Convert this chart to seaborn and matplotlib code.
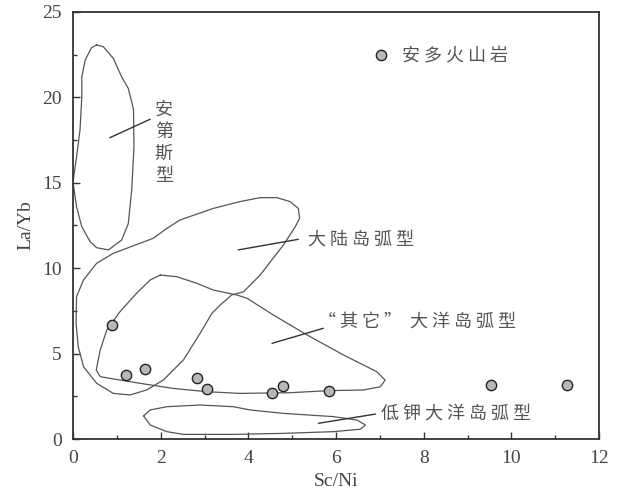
import matplotlib
matplotlib.use("Agg")
import matplotlib.pyplot as plt
import seaborn as sns
import pandas as pd

# 安多火山岩 sample points (Sc/Ni, La/Yb)
sc_ni = [0.89, 1.22, 1.64, 2.83, 3.06, 4.54, 4.80, 5.85, 9.53, 11.27]
la_yb = [6.67, 3.73, 4.08, 3.59, 2.93, 2.71, 3.08, 2.79, 3.18, 3.16]

# field outlines
andes_x = [0.54, 0.69, 0.92, 1.11, 1.26, 1.38, 1.39, 1.34, 1.26, 1.11, 0.81, 0.54, 0.39, 0.2, 0.08, 0.0,
           0.08, 0.16, 0.2, 0.2, 0.28, 0.42, 0.54]
andes_y = [23.07, 22.97, 22.28, 21.2, 20.53, 19.3, 17.1, 14.6, 12.6, 11.65, 11.07, 11.2, 11.55, 12.43, 13.6, 15.06,
           16.5, 18.1, 20.0, 21.2, 22.2, 22.9, 23.07]

cont_x = [4.27, 4.65, 4.95, 5.14, 5.17, 5.07, 4.8, 4.27, 3.89, 3.62, 3.36, 3.17, 2.9, 2.52, 2.06, 1.68, 1.3, 0.92,
          0.54, 0.24, 0.12, 0.07, 0.08, 0.24, 0.54, 0.92, 1.23, 1.83, 2.14, 2.44, 3.2, 3.81, 4.27]
cont_y = [14.13, 14.13, 13.9, 13.5, 12.92, 12.43, 11.36, 9.6, 8.62, 8.43, 7.85, 7.36, 6.19, 4.63, 3.45, 2.87, 2.58,
          2.67, 3.26, 4.23, 5.4, 6.77, 8.33, 9.31, 10.29, 10.87, 11.17, 11.75, 12.33, 12.82, 13.5, 13.9, 14.13]

other_x = [1.99, 2.37, 2.82, 3.2, 3.74, 3.97, 4.57, 5.34, 6.17, 6.93, 7.12, 7.01, 6.63, 5.83, 4.95, 3.81, 3.05, 2.29,
           1.53, 0.84, 0.62, 0.53, 0.62, 0.77, 1.07, 1.45, 1.76, 1.99]
other_y = [9.6, 9.5, 9.12, 8.72, 8.43, 8.24, 7.26, 6.09, 4.92, 3.94, 3.45, 3.06, 2.87, 2.83, 2.71, 2.67, 2.77, 2.96,
           3.26, 3.55, 3.65, 4.04, 5.21, 6.38, 7.45, 8.53, 9.31, 9.6]

lowk_x = [1.61, 1.76, 2.14, 2.9, 3.66, 4.04, 4.8, 5.94, 6.48, 6.67, 6.55, 5.94, 4.8, 3.66, 2.52, 2.14, 1.76, 1.61]
lowk_y = [1.35, 1.7, 1.89, 1.99, 1.89, 1.7, 1.5, 1.31, 1.11, 0.82, 0.57, 0.43, 0.33, 0.27, 0.27, 0.43, 0.82, 1.35]

sns.set_theme(style="white")
plt.rcParams['font.family'] = ['Noto Sans CJK SC', 'DejaVu Sans']

fig = plt.figure(figsize=(6.23, 4.97), dpi=100)
ax = fig.add_axes([0.1172, 0.1167, 0.8443, 0.8592])

line_col = "#555555"
for xs, ys in [(andes_x, andes_y), (cont_x, cont_y), (other_x, other_y), (lowk_x, lowk_y)]:
    ax.plot(xs, ys, color=line_col, lw=0.9, solid_joinstyle="round")

# leader lines from labels into fields
leaders = [((0.84, 1.76), (17.64, 18.72)),
           ((3.77, 5.14), (11.07, 11.69)),
           ((4.54, 5.71), (5.6, 6.48)),
           ((5.6, 6.9), (0.92, 1.46))]
for lx, ly in leaders:
    ax.plot(lx, ly, color="#333333", lw=1.0)

df = pd.DataFrame({"Sc/Ni": sc_ni, "La/Yb": la_yb})
sns.scatterplot(data=df, x="Sc/Ni", y="La/Yb", ax=ax, s=55, color="#b8b8b8",
                edgecolor="#222222", linewidth=1.0, zorder=5, clip_on=False)
# legend marker
ax.scatter([7.02], [22.48], s=55, color="#b8b8b8", edgecolor="#222222", linewidth=1.0, zorder=5)

txt = dict(color="#555555", fontsize=13)
ax.text(7.5, 22.48, "安 多 火 山 岩", va="center", ha="left", **txt)
ax.text(2.07, 17.33, "安\n第\n斯\n型", va="center", ha="center", linespacing=1.3, **txt)
ax.text(5.35, 11.65, "大 陆 岛 弧 型", va="center", ha="left", **txt)
ax.text(5.6, 6.88, "“ 其 它 ”  大 洋 岛 弧 型", va="center", ha="left", **txt)
ax.text(7.02, 1.5, "低 钾 大 洋 岛 弧 型", va="center", ha="left", **txt)

ax.set_xlim(0, 12)
ax.set_ylim(0, 25)
ax.set_xticks([0, 2, 4, 6, 8, 10, 12])
ax.set_xticks(range(0, 13), minor=True)
ax.set_yticks([0, 5, 10, 15, 20, 25])
ax.set_yticks([2.5 + 5 * i for i in range(5)], minor=True)
ax.tick_params(which="both", direction="in", colors="#333333", labelcolor="#444444",
               bottom=True, left=True, top=False, right=False)
ax.tick_params(which="major", length=5, width=1, labelsize=14, pad=8)
ax.tick_params(which="minor", length=3, width=1)
for lab in ax.get_xticklabels() + ax.get_yticklabels():
    lab.set_fontfamily("Liberation Serif")

ax.set_xlabel("Sc/Ni", fontsize=14, family="Liberation Serif", color="#444444", labelpad=4)
ax.set_ylabel("La/Yb", fontsize=14, family="Liberation Serif", color="#444444", labelpad=6)
for sp in ax.spines.values():
    sp.set_color("#333333")
    sp.set_linewidth(1.3)

fig.savefig("out.png", dpi=100)
